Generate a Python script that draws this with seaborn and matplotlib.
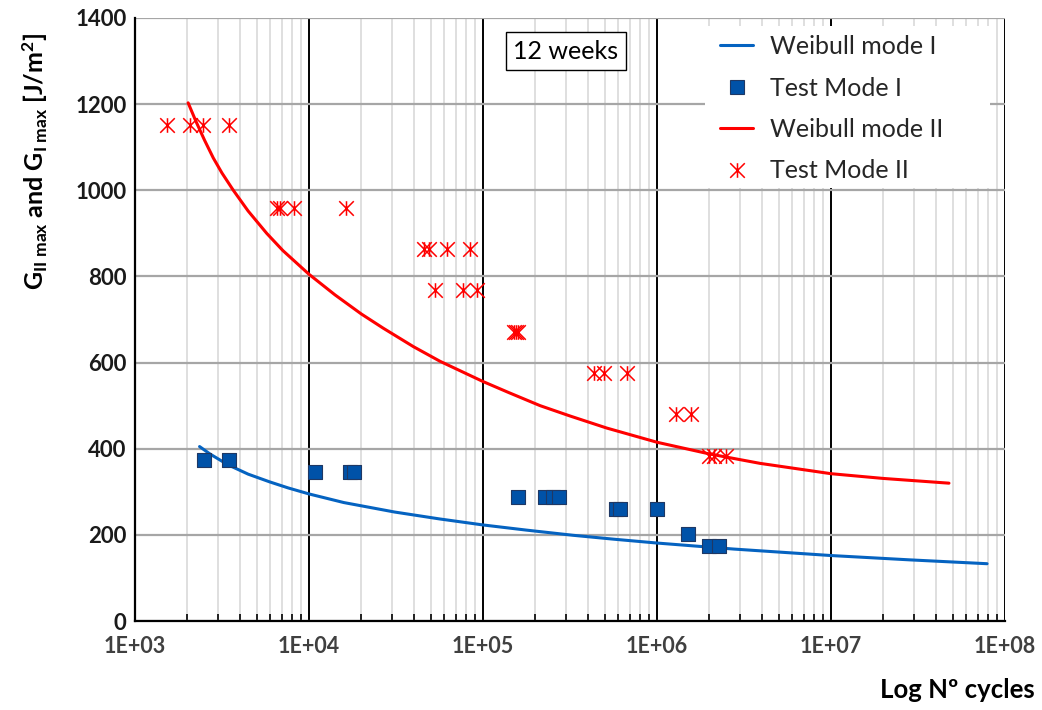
import numpy as np
import pandas as pd
import matplotlib
matplotlib.use("Agg")
import matplotlib.pyplot as plt
import seaborn as sns
from matplotlib.path import Path
from matplotlib.patches import Rectangle
from matplotlib.ticker import LogLocator, FixedLocator, FixedFormatter, NullFormatter
from matplotlib.legend_handler import HandlerLine2D
from matplotlib.lines import Line2D

# ---------------- data ----------------
test2_cycles = [1530, 2070, 2460, 3470,
                6550, 6810, 8210, 16300,
                45800, 48900, 62100, 84100,
                52900, 76700, 92500,
                150600, 154700, 158900,
                434700, 495800, 672600,
                1285000, 1567000,
                1991000, 2128000, 2494000]
test2_G = [1152, 1152, 1152, 1152,
           960, 960, 960, 960,
           864, 864, 864, 864,
           768, 768, 768,
           672, 672, 672,
           576, 576, 576,
           480, 480,
           384, 384, 384]

test1_cycles = [2506, 3451,
                10880, 17100, 18200,
                158500, 226000, 254000, 275000,
                581000, 615000, 1000000,
                1507000,
                2000000, 2285000]
test1_G = [374, 374,
           345, 345, 345,
           288, 288, 288, 288,
           259, 259, 259,
           202,
           174, 174]

weib2_cycles = [2020, 2240, 2512, 2818, 3162, 3673, 4467, 5715, 7079, 10000,
                14125, 19953, 26669, 39811, 56624, 79433, 100000, 141254, 212814,
                316228, 514044, 1000000, 1995262, 3908409, 10000000, 19952623, 47643000]
weib2_G = [1203, 1160, 1116, 1075, 1040, 1000, 952, 900, 860, 805,
           757, 713, 680, 637, 603, 575, 556, 530, 500,
           476, 448, 415, 388, 366, 342, 331, 320]

weib1_cycles = [2350, 2692, 3162, 3451, 4467, 5943, 7586, 10000, 15849, 31046,
                56234, 100000, 177828, 329610, 562341, 1000000, 2766942, 10000000,
                28183829, 78886000]
weib1_G = [405, 388, 371, 362, 341, 323, 309, 295, 275, 253,
           237, 223, 211, 199, 190, 181, 167, 152,
           142, 133]

x_ticks = [1e3, 1e4, 1e5, 1e6, 1e7, 1e8]
x_tick_labels = ["1E+03", "1E+04", "1E+05", "1E+06", "1E+07", "1E+08"]
y_ticks = [0, 200, 400, 600, 800, 1000, 1200, 1400]

# ---------------- style ----------------
sns.set_style("white")
FONT = "Lato"
plt.rcParams["font.family"] = [FONT, "DejaVu Sans"]
plt.rcParams["mathtext.fontset"] = "custom"
plt.rcParams["mathtext.rm"] = FONT
plt.rcParams["mathtext.bf"] = FONT + ":bold"
plt.rcParams["mathtext.it"] = FONT + ":italic"

RED = "#FF0000"
BLUE_LINE = "#0563C1"
BLUE_FILL = "#0052A8"
BLUE_EDGE = "#1F3864"

star = Path([(0, -1), (0, 1), (-1, -1), (1, 1), (-1, 1), (1, -1)],
            [Path.MOVETO, Path.LINETO, Path.MOVETO, Path.LINETO, Path.MOVETO, Path.LINETO])

W, H = 1042, 710
fig = plt.figure(figsize=(W / 100, H / 100), dpi=100)
ax = fig.add_axes([135 / W, 1 - 621 / H, 870 / W, 603 / H])

df_w1 = pd.DataFrame({"N": weib1_cycles, "G": weib1_G})
df_w2 = pd.DataFrame({"N": weib2_cycles, "G": weib2_G})
df_t1 = pd.DataFrame({"N": test1_cycles, "G": test1_G})
df_t2 = pd.DataFrame({"N": test2_cycles, "G": test2_G})

sns.lineplot(data=df_w1, x="N", y="G", ax=ax, color=BLUE_LINE, lw=2.2,
             sort=False, estimator=None, zorder=3)
sns.lineplot(data=df_w2, x="N", y="G", ax=ax, color=RED, lw=2.2,
             sort=False, estimator=None, zorder=3)
sns.scatterplot(data=df_t1, x="N", y="G", ax=ax, marker="s", s=95,
                color=BLUE_FILL, edgecolor=BLUE_EDGE, linewidth=0.8, zorder=4)
sns.scatterplot(data=df_t2, x="N", y="G", ax=ax, marker=star, s=110,
                color=RED, edgecolor=RED, linewidth=1.1, zorder=4)

ax.set_xscale("log")
ax.set_xlim(1e3, 1e8)
ax.set_ylim(0, 1400)
ax.xaxis.set_major_locator(FixedLocator(x_ticks))
ax.xaxis.set_major_formatter(FixedFormatter(x_tick_labels))
ax.xaxis.set_minor_locator(LogLocator(base=10, subs=np.arange(2, 10)))
ax.xaxis.set_minor_formatter(NullFormatter())
ax.yaxis.set_major_locator(FixedLocator(y_ticks))

ax.set_axisbelow(True)
ax.grid(which="minor", axis="x", color="#d9d9d9", lw=1.2)
ax.grid(which="major", axis="y", color="#a6a6a6", lw=1.6)
ax.grid(which="major", axis="x", color="black", lw=1.4)

for s in ["top", "right"]:
    ax.spines[s].set_visible(False)
for s in ["left", "bottom"]:
    ax.spines[s].set_color("black")
    ax.spines[s].set_linewidth(1.6)

ax.tick_params(axis="x", which="major", length=0, pad=11)
ax.tick_params(axis="y", which="major", length=0, pad=6)
ax.tick_params(axis="x", which="minor", direction="in", length=5, width=1.2,
               color="black", bottom=True)
for lab in ax.get_xticklabels():
    lab.set_fontweight("bold"); lab.set_fontsize(15.5); lab.set_color("#404040")
for lab in ax.get_yticklabels():
    lab.set_fontweight("bold"); lab.set_fontsize(16); lab.set_color("#1a1a1a")

ax.set_ylabel(r"G$_{\mathbf{II\ max}}$ and G$_{\mathbf{I\ max}}$ [J/m$^{\mathbf{2}}$]",
              fontsize=18, fontweight="bold", color="black")
ax.yaxis.set_label_coords(-0.098, 0.762)
ax.set_xlabel("Log Nº cycles", fontsize=18.5, fontweight="bold", color="black")
ax.xaxis.set_label_coords(0.945, -0.095)

ax.text(0.4954, 0.945, "12 weeks", transform=ax.transAxes, ha="center", va="center",
        fontsize=18, color="black", zorder=6,
        bbox=dict(boxstyle="square,pad=0.3", fc="white", ec="black", lw=1.0))

# white legend area (Excel-style legend box without border)
ax.add_patch(Rectangle(((705 - 135) / 870, (621 - 188) / 603), 285 / 870, 162 / 603,
                       transform=ax.transAxes, fc="white", ec="none", zorder=4.5))


class RightMarker(HandlerLine2D):
    def get_xdata(self, legend, xdescent, ydescent, width, height, fontsize):
        xd, _ = super().get_xdata(legend, xdescent, ydescent, width, height, fontsize)
        return xd, np.array([-xdescent + width])


h_w1 = Line2D([], [], color=BLUE_LINE, lw=2.2)
h_t1 = Line2D([], [], ls="none", marker="s", ms=9.5, mfc=BLUE_FILL, mec=BLUE_EDGE, mew=0.8)
h_w2 = Line2D([], [], color=RED, lw=2.2)
h_t2 = Line2D([], [], ls="none", marker=star, ms=10.5, color=RED, mew=1.1)
leg = ax.legend([h_w1, h_t1, h_w2, h_t2],
                ["Weibull mode I", "Test Mode I", "Weibull mode II", "Test Mode II"],
                loc="upper left", bbox_to_anchor=((705 - 135) / 870, (621 - 20) / 603),
                fontsize=18, frameon=False, handlelength=1.32, handletextpad=0.68,
                labelspacing=0.74, borderpad=0.6, borderaxespad=0,
                handler_map={h_t1: RightMarker(numpoints=1), h_t2: RightMarker(numpoints=1)})
leg.set_zorder(5)

fig.savefig("out.png", dpi=100)
